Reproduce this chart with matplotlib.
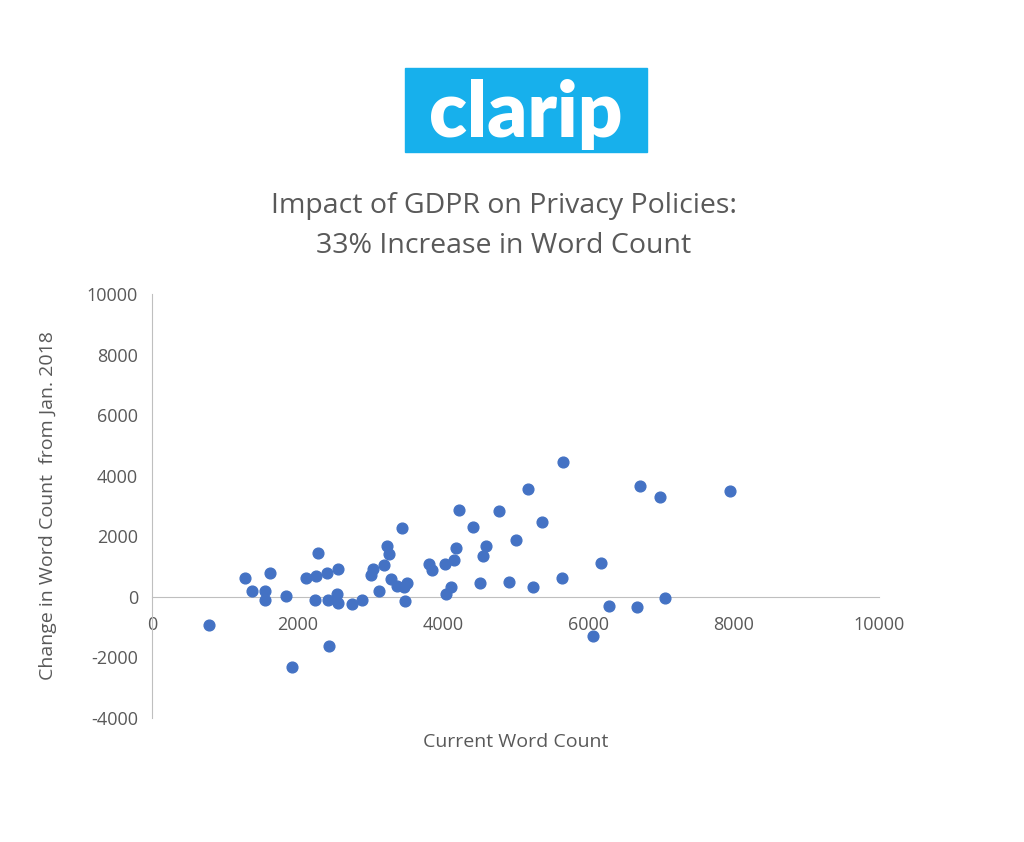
import matplotlib
matplotlib.use("Agg")
import matplotlib.pyplot as plt
from matplotlib.patches import Rectangle

plt.rcParams["font.family"] = ["Open Sans", "DejaVu Sans"]
plt.rcParams["axes.unicode_minus"] = False

# Current word count vs change since Jan. 2018
word_count = [784, 1279, 1376, 1554, 1554, 1623, 1843, 1926, 2118, 2256, 2283, 2242,
              2407, 2421, 2435, 2545, 2559, 2559, 2751, 2889, 3012, 3040, 3122, 3191,
              3232, 3260, 3287, 3370, 3466, 3507, 3480, 3439,
              3810, 3852, 4030, 4044, 4113, 4154, 4181, 4222, 4415, 4511, 4553, 4594,
              4773, 4911, 5007, 5172, 5241, 5364, 5640, 5653, 6066, 6176, 6286, 6671,
              6712, 6988, 7056, 7950]
change = [-924, 627, 198, 198, -99, 792, 33, -2310, 627, 693, 1452, -99,
          792, -99, -1617, 99, 924, -198, -231, -99, 726, 924, 198, 1056,
          1683, 1419, 594, 363, 330, 462, -132, 2277,
          1089, 891, 1089, 99, 330, 1221, 1617, 2871, 2310, 462, 1353, 1683,
          2838, 495, 1881, 3564, 330, 2475, 627, 4455, -1287, 1122, -297, -330,
          3663, 3300, -33, 3498]

grey = "#595959"
fig = plt.figure(figsize=(10.24, 8.42), dpi=100)

# logo
fig.patches.append(Rectangle((405 / 1024, 1 - 152 / 842), 242 / 1024, 84 / 842,
                             transform=fig.transFigure, color="#17b0ec"))
fig.text(526 / 1024, 1 - 114 / 842, "clarip", color="white", fontsize=56,
         fontweight="heavy", ha="center", va="center", family="Lato")

fig.text(504 / 1024, 1 - 226 / 842, "Impact of GDPR on Privacy Policies:\n33% Increase in Word Count",
         ha="center", va="center", fontsize=20.5, color=grey, linespacing=1.6)

ax = fig.add_axes([152 / 1024, 1 - 718 / 842, 727 / 1024, 424 / 842])
ax.scatter(word_count, change, s=60, color="#4472c4", zorder=3)
ax.set_xlim(0, 10000)
ax.set_ylim(-4000, 10000)
ax.set_xticks(range(0, 10001, 2000))
ax.set_yticks(range(-4000, 10001, 2000))
for s in ["top", "right"]:
    ax.spines[s].set_visible(False)
ax.spines["bottom"].set_position(("data", 0))
ax.spines["bottom"].set_color("#bfbfbf")
ax.spines["left"].set_color("#bfbfbf")
ax.tick_params(length=0, labelsize=13, labelcolor=grey, pad=10)
ax.tick_params(axis="x", pad=14)
ax.set_xlabel("Current Word Count", fontsize=14, color=grey, labelpad=0)
ax.xaxis.set_label_coords(0.5, -0.035)
ax.set_ylabel("Change in Word Count  from Jan. 2018", fontsize=14, color=grey)
ax.yaxis.set_label_coords(-0.13, 0.5)

fig.savefig("out.png", dpi=100)
